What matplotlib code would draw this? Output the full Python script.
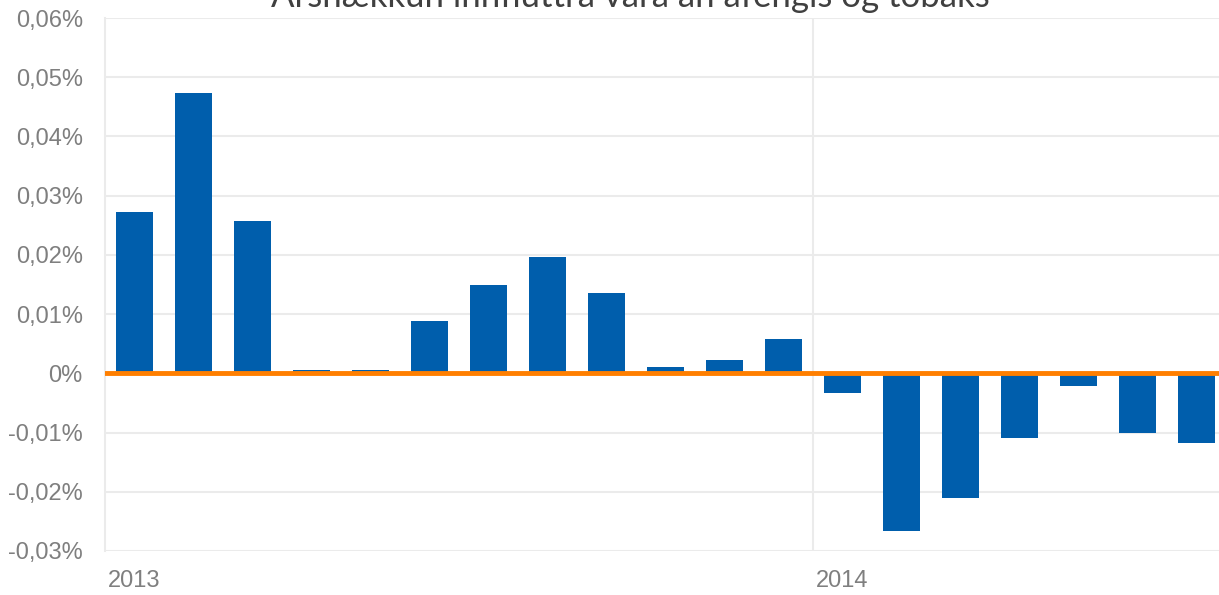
import matplotlib
matplotlib.use("Agg")
import matplotlib.pyplot as plt
from matplotlib.ticker import FuncFormatter

title = "Ársnækkun innfluttra vara án áfengis og tóbaks"
values = [0.0272, 0.0473, 0.0257, 0.0006, 0.0006, 0.0088, 0.0149, 0.0196, 0.0136,
          0.0011, 0.0022, 0.0058, -0.0033, -0.0266, -0.0210, -0.0110, -0.0022,
          -0.0100, -0.0117]
year_labels = ["2013", "2014"]
year_start_index = [0, 12]
y_ticks = [-0.03, -0.02, -0.01, 0.0, 0.01, 0.02, 0.03, 0.04, 0.05, 0.06]

bar_color = "#005EAC"
zero_color = "#FF7F00"
grid_color = "#EBEBEB"
text_color = "#7F7F7F"

fig = plt.figure(figsize=(12.19, 5.95), dpi=100)
ax = fig.add_axes([105/1219, 44/595, 1121/1219, 533/595])

x = list(range(len(values)))
ax.bar(x, values, width=0.63, color=bar_color, zorder=3)
ax.axhline(0, color=zero_color, lw=3.5, zorder=4)

ax.set_xlim(-0.5, len(values) - 0.5)
ax.set_ylim(-0.03, 0.06)
ax.set_yticks(y_ticks)

def fmt(v, pos):
    if abs(v) < 1e-12:
        return "0%"
    return ("%.2f%%" % v).replace(".", ",")
ax.yaxis.set_major_formatter(FuncFormatter(fmt))

ax.set_xticks([i - 0.5 for i in year_start_index])
ax.set_xticklabels(year_labels)
for lab in ax.get_xticklabels():
    lab.set_ha("left")

ax.grid(axis="y", color=grid_color, lw=1.5, zorder=0)
for i in year_start_index[1:]:
    ax.axvline(i - 0.5, color=grid_color, lw=1.5, zorder=0)

for s in ["top", "right", "bottom"]:
    ax.spines[s].set_visible(False)
ax.spines["left"].set_color(grid_color)
ax.spines["left"].set_linewidth(1.5)

ax.tick_params(axis="y", length=0, pad=16, labelsize=17, labelcolor=text_color)
ax.tick_params(axis="x", length=0, pad=14, labelsize=17, labelcolor=text_color)
for lab in ax.get_xticklabels():
    lab.set_fontfamily("Liberation Sans")
    lab.set_x(0)
for lab in ax.get_yticklabels():
    lab.set_fontfamily("Liberation Sans")

import matplotlib.transforms as mtrans
for lab in ax.get_xticklabels():
    lab.set_transform(lab.get_transform() + mtrans.ScaledTranslation(3/100, 0, fig.dpi_scale_trans))

fig.text(630/1219, 1 - 7/595, title, ha="center", va="baseline",
         fontsize=25, family="Lato", color="#404040")

fig.savefig("out.png", dpi=100)
